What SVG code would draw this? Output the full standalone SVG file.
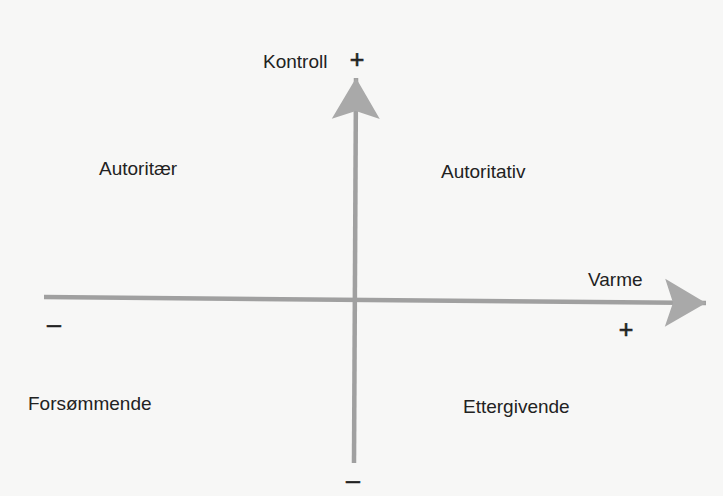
<svg xmlns="http://www.w3.org/2000/svg" width="723" height="496" viewBox="0 0 723 496">
  <style>
    .lbl { font-family: "Liberation Sans", Arial, sans-serif; font-size: 19px; fill: #222; }
    .sign { font-family: "Liberation Sans", Arial, sans-serif; font-size: 25px; fill: #222; stroke: #222; stroke-width: 0.6; text-anchor: middle; }
    .axis { stroke: #a0a0a0; stroke-width: 4.5; fill: none; }
  </style>
  <defs>
    <marker id="head" viewBox="-42 -25 43 50" markerWidth="43" markerHeight="50" refX="0" refY="0" markerUnits="userSpaceOnUse" orient="auto">
      <path d="M0,0 L-41,-24 L-33,0 L-41,24 Z" fill="#a9a9a9"/>
    </marker>
  </defs>
  <rect width="723" height="496" fill="#f7f7f6"/>
  <g id="connectors">
    <path class="axis" d="M44,297 L706,303" marker-end="url(#head)"/>
    <path class="axis" d="M354,463 L356,78" marker-end="url(#head)"/>
  </g>
  <g id="kontroll"><text class="lbl" x="263" y="68">Kontroll</text></g>
  <g id="kontroll-plus"><text class="sign" x="357" y="68">+</text></g>
  <g id="autoritaer"><text class="lbl" x="99" y="175">Autoritær</text></g>
  <g id="autoritativ"><text class="lbl" x="441" y="178">Autoritativ</text></g>
  <g id="varme"><text class="lbl" x="588" y="286">Varme</text></g>
  <g id="varme-minus"><text class="sign" x="54" y="333">–</text></g>
  <g id="varme-plus"><text class="sign" x="626" y="338">+</text></g>
  <g id="forsommende"><text class="lbl" x="28" y="410">Forsømmende</text></g>
  <g id="ettergivende"><text class="lbl" x="463" y="413">Ettergivende</text></g>
  <g id="kontroll-minus"><text class="sign" x="353" y="489">–</text></g>
</svg>
